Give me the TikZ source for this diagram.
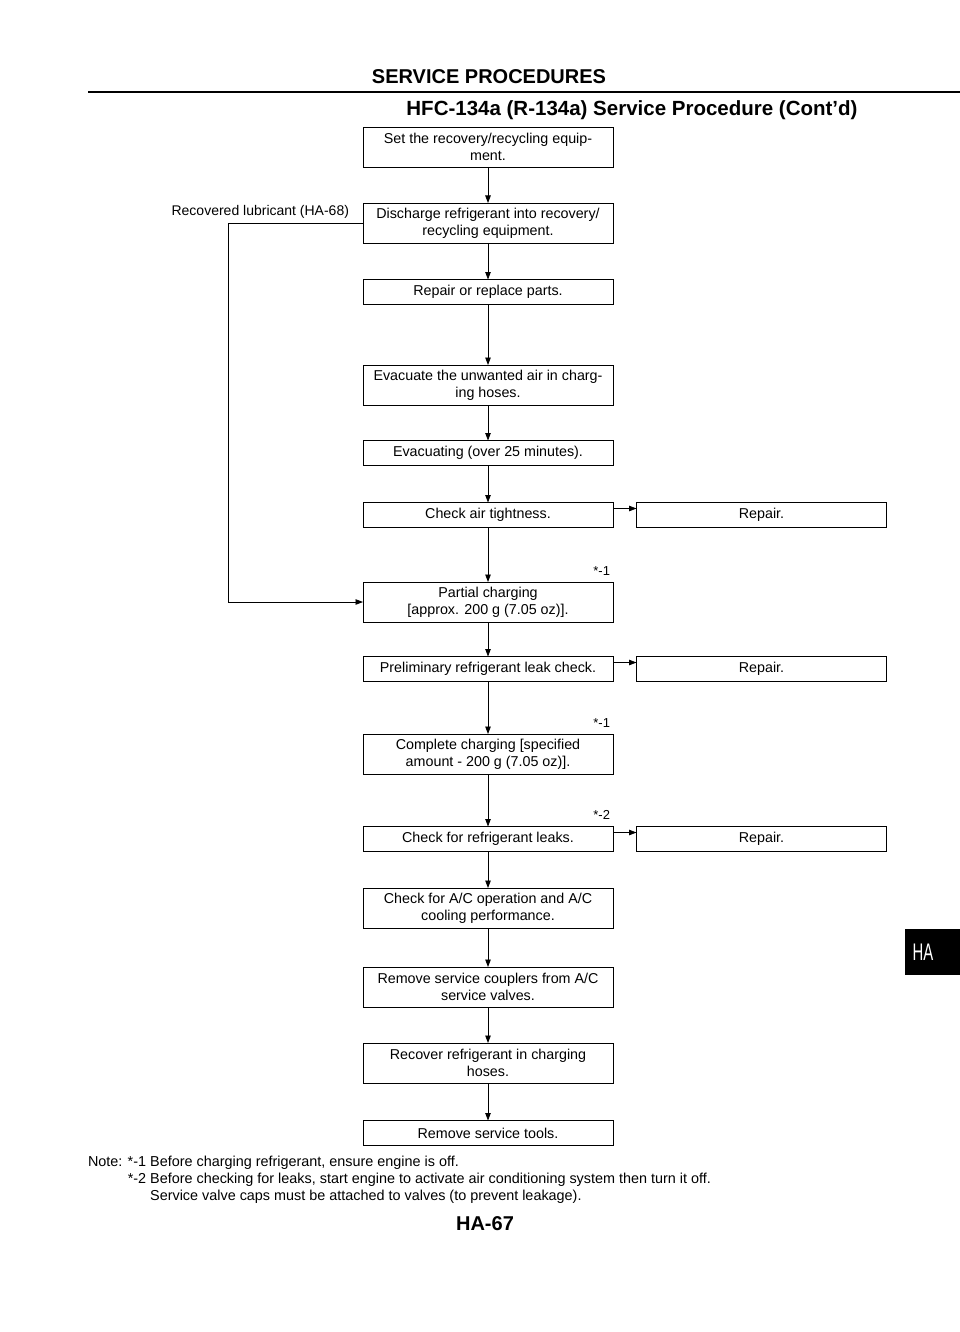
\documentclass[tikz,border=0pt]{standalone}
\usepackage{fontspec}
\setmainfont{Liberation Sans}
\usetikzlibrary{arrows.meta}
\begin{document}
\begin{tikzpicture}[x=1pt,y=-1pt,
  every node/.style={inner sep=0pt, outer sep=0pt},
  box/.style={draw, line width=0.8pt, minimum width=250pt, align=center,
    font=\fontsize{14.3}{17}\selectfont},
  one/.style={box, minimum height=25pt},
  two/.style={box, minimum height=40pt},
  arr/.style={line width=0.8pt, -{Triangle[length=7.5pt,width=5.5pt]}},
  lbl/.style={font=\fontsize{14}{17}\selectfont},
  star/.style={font=\fontsize{13}{15}\selectfont, anchor=base east},
  note/.style={font=\fontsize{14.4}{17}\selectfont, anchor=base west},
  head/.style={font=\bfseries\fontsize{20}{24}\selectfont, anchor=base}]
\useasboundingbox (0,0) rectangle (960,1332);
\fill[white] (0,0) rectangle (960,1332);

% headings
\node[head] (t1) at (489,84) {SERVICE PROCEDURES};
\draw[line width=2.4pt] (88,92) coordinate (r0) -- (960,92) coordinate (r1);
\node[head, font=\bfseries\fontsize{20.5}{24}\selectfont] (t2) at (632,116) {HFC-134a (R-134a) Service Procedure (Cont'd)};

% main column
\node[two] (b1) at (488,147) {Set the recovery/recycling equip-\\ment.};
\node[two] (b2) at (488,223) {Discharge refrigerant into recovery/\\recycling equipment.};
\node[one] (b3) at (488,292) {Repair or replace parts.};
\node[two] (b4) at (488,385) {Evacuate the unwanted air in charg-\\ing hoses.};
\node[one] (b5) at (488,453) {Evacuating (over 25 minutes).};
\node[one] (b6) at (488,515) {Check air tightness.};
\node[two] (b7) at (488,602) {Partial charging\\{}[approx. 200 g (7.05 oz)].};
\node[one] (b8) at (488,669) {Preliminary refrigerant leak check.};
\node[two] (b9) at (488,754) {Complete charging [specified\\amount - 200 g (7.05 oz)].};
\node[one] (b10) at (488,839) {Check for refrigerant leaks.};
\node[two] (b11) at (488,908) {Check for A/C operation and A/C\\cooling performance.};
\node[two] (b12) at (488,987) {Remove service couplers from A/C\\service valves.};
\node[two] (b13) at (488,1063) {Recover refrigerant in charging\\hoses.};
\node[one] (b14) at (488,1133) {Remove service tools.};

% repair boxes
\node[one] (p1) at (761.5,515) {Repair.};
\node[one] (p2) at (761.5,669) {Repair.};
\node[one] (p3) at (761.5,839) {Repair.};

% vertical arrows
\foreach \a/\b in {b1/b2,b2/b3,b3/b4,b4/b5,b5/b6,b6/b7,b7/b8,b8/b9,b9/b10,b10/b11,b11/b12,b12/b13,b13/b14}
  \draw[arr] (\a.south) -- (\b.north);

% side arrows
\draw[arr] ([yshift=-6pt]b6.north east) -- ([yshift=-6pt]p1.north west);
\draw[arr] ([yshift=-6pt]b8.north east) -- ([yshift=-6pt]p2.north west);
\draw[arr] ([yshift=-6pt]b10.north east) -- ([yshift=-6pt]p3.north west);

% recovered lubricant loop
\node[lbl, anchor=east] (rl) at (349,212) {Recovered lubricant (HA-68)};
\draw[arr] (b2.west) -- ++(-135,0) coordinate (lc) |- (b7.west);

% star marks
\node[star] (s1) at ([xshift=-3pt,yshift=7pt]b7.north east) {*-1};
\node[star] (s2) at ([xshift=-3pt,yshift=7pt]b9.north east) {*-1};
\node[star] (s3) at ([xshift=-3pt,yshift=7pt]b10.north east) {*-2};

% notes
\node[note] (n1) at (88,1166) {Note: *-1 Before charging refrigerant, ensure engine is off.};
\node[note] (n2) at (88,1183) {\phantom{Note: }*-2 Before checking for leaks, start engine to activate air conditioning system then turn it off.};
\node[note] (n3) at (88,1200) {\phantom{Note: *-2 }Service valve caps must be attached to valves (to prevent leakage).};

\node[head] (pg) at (485,1230) {HA-67};

% side tab
\fill (905,929) rectangle (960,975);
\node[text=white, font=\fontsize{24}{24}\selectfont] (tab) at (923,952) {\scalebox{0.62}[1]{HA}};
\end{tikzpicture}
\end{document}
